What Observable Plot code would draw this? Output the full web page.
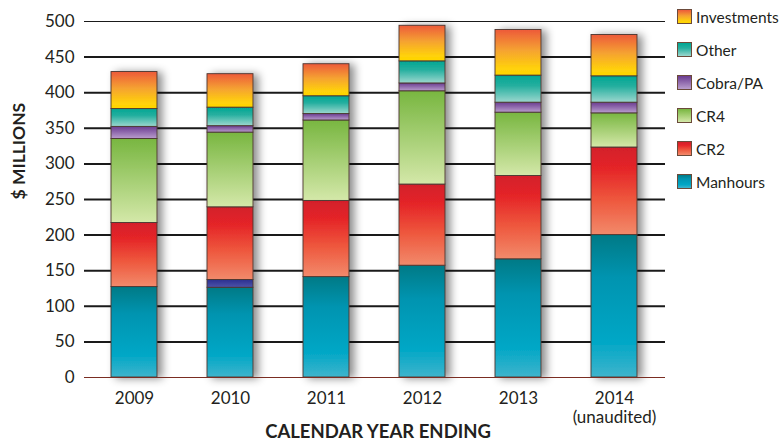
<!DOCTYPE html>
<html>
<head>
<meta charset="utf-8">
<script src="https://cdn.jsdelivr.net/npm/d3@7"></script>
<script src="https://cdn.jsdelivr.net/npm/@observablehq/plot@0.6"></script>
<style>
  html, body { margin: 0; padding: 0; background: #fff; }
  #wrap { position: relative; width: 780px; height: 446px; font-family: Lato, "Open Sans", sans-serif; }
  #legend { position: absolute; left: 677px; top: 0px; }
  .row { display: flex; align-items: center; height: 33px; font-size: 15.5px; color: #231f20; }
  .sw { width: 15px; height: 15px; border: 1px solid #6b4a3a; margin-right: 4px; box-sizing: border-box; }
</style>
</head>
<body>
<div id="wrap"><div id="legend"></div></div>
<script>
// ---- data ----
const years = ["2009", "2010", "2011", "2012", "2013", "2014"];
const tickLabels = ["2009", "2010", "2011", "2012", "2013", "2014\n(unaudited)"];
const seriesNames = ["Manhours", "Adjustment", "CR2", "CR4", "Cobra/PA", "Other", "Investments"];
const manhours    = [127, 126, 141, 157, 166, 200];
const adjustment  = [0, 11, 0, 0, 0, 0];   // dark-blue sliver in 2010 (not in legend)
const cr2         = [90, 102, 107, 114, 117, 123];
const cr4         = [118, 105, 113, 131, 89, 48];
const cobraPA     = [17, 9, 9, 11, 14, 15];
const other       = [25, 26, 25, 31, 38, 37];
const investments = [52, 47, 45, 50, 64, 58];
const legendNames = ["Investments", "Other", "Cobra/PA", "CR4", "CR2", "Manhours"];
const yTicks = [0, 50, 100, 150, 200, 250, 300, 350, 400, 450, 500];

const seriesValues = [manhours, adjustment, cr2, cr4, cobraPA, other, investments];
const rows = [];
seriesNames.forEach((s, i) => years.forEach((y, j) => rows.push({year: y, series: s, value: seriesValues[i][j]})));

// gradients (top -> bottom)
const grads = {
  "Manhours":    [["0%", "#007a86"], ["30%", "#0094b0"], ["75%", "#00a7c6"], ["100%", "#3fb4cc"]],
  "Adjustment":  [["0%", "#2b2f8f"], ["100%", "#4d53aa"]],
  "CR2":         [["0%", "#d31f2a"], ["25%", "#e52528"], ["60%", "#ee573d"], ["100%", "#f28a6b"]],
  "CR4":         [["0%", "#78b640"], ["100%", "#d4e8a9"]],
  "Cobra/PA":    [["0%", "#6a3b90"], ["100%", "#b99dcd"]],
  "Other":       [["0%", "#00a693"], ["40%", "#25af9f"], ["100%", "#9cd7ce"]],
  "Investments": [["0%", "#ed5a3a"], ["45%", "#f5a232"], ["85%", "#ffd10a"], ["100%", "#ffd600"]]
};
const gid = s => "g_" + s.replace(/[^A-Za-z0-9]/g, "");

function defsMark() {
  const ns = "http://www.w3.org/2000/svg";
  const defs = document.createElementNS(ns, "defs");
  for (const [s, stops] of Object.entries(grads)) {
    const lg = document.createElementNS(ns, "linearGradient");
    lg.setAttribute("id", gid(s));
    lg.setAttribute("x1", "0"); lg.setAttribute("y1", "0");
    lg.setAttribute("x2", "0"); lg.setAttribute("y2", "1");
    for (const [o, c] of stops) {
      const st = document.createElementNS(ns, "stop");
      st.setAttribute("offset", o); st.setAttribute("stop-color", c);
      lg.appendChild(st);
    }
    defs.appendChild(lg);
  }
  const f = document.createElementNS(ns, "filter");
  f.setAttribute("id", "barShadow");
  f.setAttribute("x", "-30%"); f.setAttribute("y", "-10%");
  f.setAttribute("width", "170%"); f.setAttribute("height", "120%");
  const ds = document.createElementNS(ns, "feDropShadow");
  ds.setAttribute("dx", "5"); ds.setAttribute("dy", "1");
  ds.setAttribute("stdDeviation", "4.5");
  ds.setAttribute("flood-color", "#000"); ds.setAttribute("flood-opacity", "0.45");
  f.appendChild(ds);
  defs.appendChild(f);
  return defs;
}

const chart = Plot.plot({
  width: 780,
  height: 446,
  marginLeft: 84,
  marginRight: 115,
  marginTop: 21,
  marginBottom: 69,
  style: {fontFamily: "Lato, 'Open Sans', sans-serif", fontSize: "17px", color: "#231f20", background: "transparent"},
  x: {domain: years, paddingInner: 0.52, paddingOuter: 0.28, label: null},
  y: {domain: [0, 500], label: null},
  color: {type: "ordinal", domain: seriesNames, range: seriesNames.map(s => `url(#${gid(s)})`)},
  marks: [
    defsMark,
    Plot.gridY(yTicks.filter(t => t > 0 && t < 500), {stroke: "#1a1a1a", strokeOpacity: 1, strokeWidth: 2}),
    Plot.gridY([500], {stroke: "#1a1a1a", strokeOpacity: 1, strokeWidth: 1.1}),
    Plot.barY(rows, {x: "year", y: "value", fill: "series", stroke: "#4a3530", strokeWidth: 0.9}),
    Plot.ruleY([0], {stroke: "#7a2d22", strokeWidth: 1}),
    Plot.axisY(yTicks, {tickSize: 0, tickPadding: 10, fontSize: 17, label: null}),
    Plot.axisX({tickSize: 0, tickPadding: 13, fontSize: 17, lineHeight: 1.12, label: null,
      tickFormat: d => tickLabels[years.indexOf(d)]}),
    Plot.text(["$ MILLIONS"], {frameAnchor: "left", dx: -65, rotate: -90, fontSize: 17.5, fontWeight: "bold", fill: "#231f20"}),
    Plot.text(["CALENDAR YEAR ENDING"], {frameAnchor: "bottom", dx: 3, dy: 60, fontSize: 18.5, fontWeight: "bold", fill: "#231f20"})
  ]
});
const barG = chart.querySelector('g[aria-label="bar"]');
if (barG) barG.setAttribute("filter", "url(#barShadow)");
document.getElementById("wrap").prepend(chart);

// legend
const legend = document.getElementById("legend");
for (const s of legendNames) {
  const row = document.createElement("div");
  row.className = "row";
  const sw = document.createElement("div");
  sw.className = "sw";
  sw.style.background = `linear-gradient(to bottom, ${grads[s].map(([o, c]) => c + " " + o).join(", ")})`;
  const t = document.createElement("span");
  t.textContent = s;
  row.appendChild(sw); row.appendChild(t);
  legend.appendChild(row);
}
</script>
</body>
</html>
